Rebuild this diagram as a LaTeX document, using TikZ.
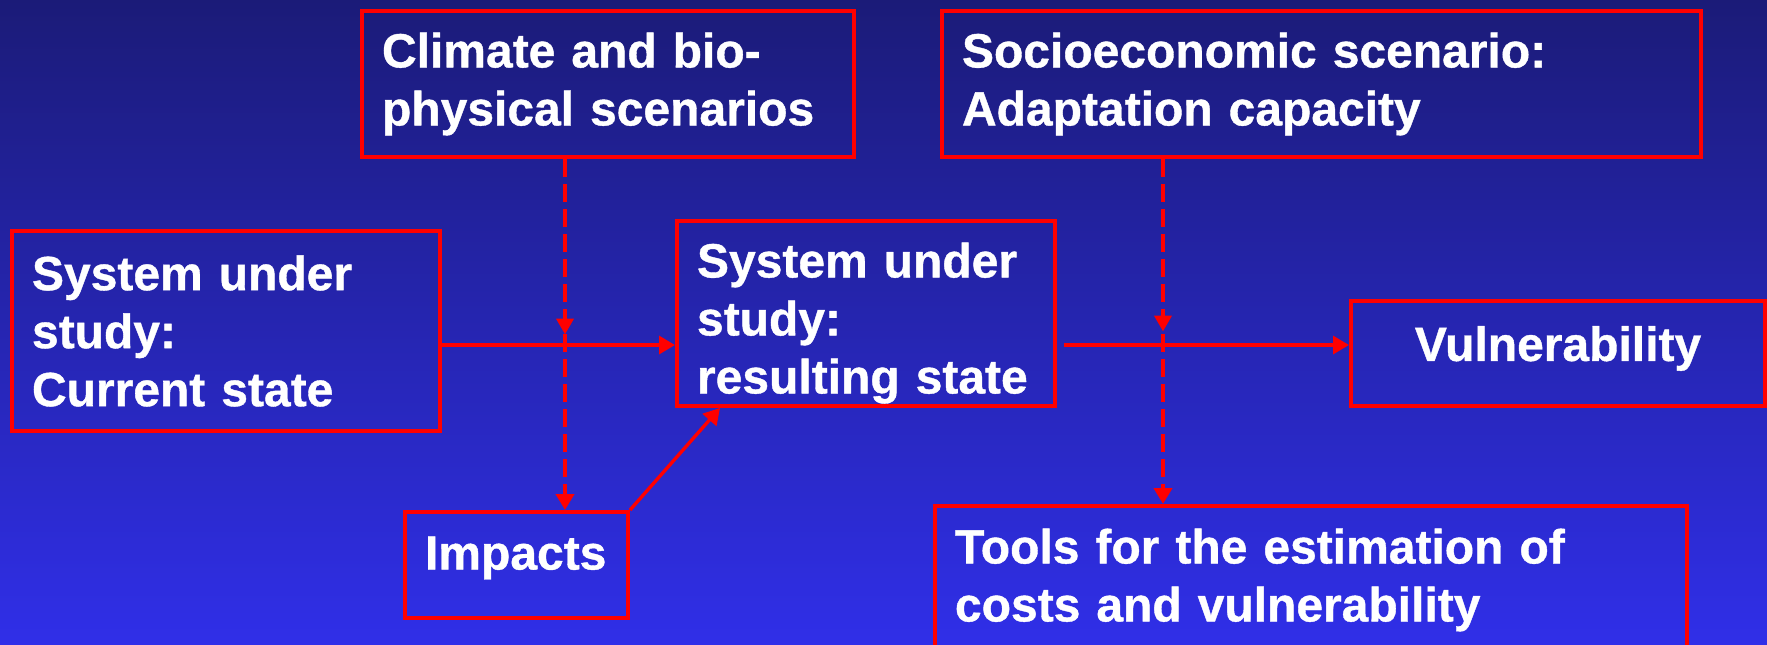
\documentclass[tikz,border=0pt]{standalone}
\usepackage{fontspec}
\setmainfont[BoldFeatures={FakeBold=0.8}]{Liberation Sans}
\usetikzlibrary{arrows.meta,decorations.markings,calc}
\definecolor{bgtop}{RGB}{27,27,120}
\definecolor{bgbot}{RGB}{48,47,232}
\definecolor{rline}{RGB}{255,0,0}
\begin{document}
\begin{tikzpicture}[x=0.5pt,y=-0.5pt,
  box/.style={draw=rline,line width=2pt,inner xsep=10pt,inner ysep=0pt,
    align=left,anchor=north west,text=white,
    font=\bfseries\fontsize{24}{29}\selectfont},
  conn/.style={draw=rline,line width=1.7pt,-{Triangle[length=8pt,width=9pt]}},
  dconn/.style={conn,line width=2pt,dash pattern=on 9pt off 3.5pt,
    postaction={decorate},
    decoration={markings,mark=at position 0.5 with {\arrow[rline]{Triangle[length=8pt,width=8.5pt]}}}}
]
\useasboundingbox (0,0) rectangle (1767,644);
\begin{scope}[y=0.5pt]
  \shade[top color=bgtop,bottom color=bgbot] (0,0) rectangle (1767,-644);
\end{scope}
\clip (0,0) rectangle (1767,644);

\node[box,minimum width=246pt,minimum height=73pt,text width=226pt] (climate) at (360,9)
  {Climate and bio-\\physical scenarios};
\node[box,minimum width=379.5pt,minimum height=73pt,text width=359.5pt] (socio) at (940,9)
  {Socioeconomic scenario:\\Adaptation capacity};
\node[box,minimum width=214pt,minimum height=100pt,text width=194pt] (current) at (10,229)
  {System under\\study:\\Current state};
\node[box,minimum width=189pt,minimum height=92.5pt,text width=169pt] (resulting) at (675,219)
  {\rule{0pt}{27pt}System under\\study:\\resulting state};
\node[box,align=center,minimum width=207pt,minimum height=52.5pt,text width=187pt] (vuln) at (1349,299)
  {Vulnerability\rule[-10pt]{0pt}{10pt}};
\node[box,minimum width=111.5pt,minimum height=53pt,text width=91.5pt] (impacts) at (403,510)
  {Impacts\rule[-12pt]{0pt}{12pt}};
\node[box,minimum width=376pt,minimum height=74pt,text width=356pt] (tools) at (933,504)
  {Tools for the estimation of\\costs and vulnerability};

\coordinate (hl) at (0,345);
\coordinate (dx1) at (565,0);
\coordinate (dx2) at (1163,0);

\draw[conn] (current.east |- hl) -- (resulting.west |- hl);
\draw[conn,shorten <=3.5pt] (resulting.east |- hl) -- (vuln.west |- hl);
\draw[dconn] (climate.south -| dx1) -- (impacts.north -| dx1);
\draw[dconn] (socio.south -| dx2) -- (tools.north -| dx2);
\draw[conn] (impacts.north east) -- ([xshift=22.5pt]resulting.south west);
\end{tikzpicture}
\end{document}
